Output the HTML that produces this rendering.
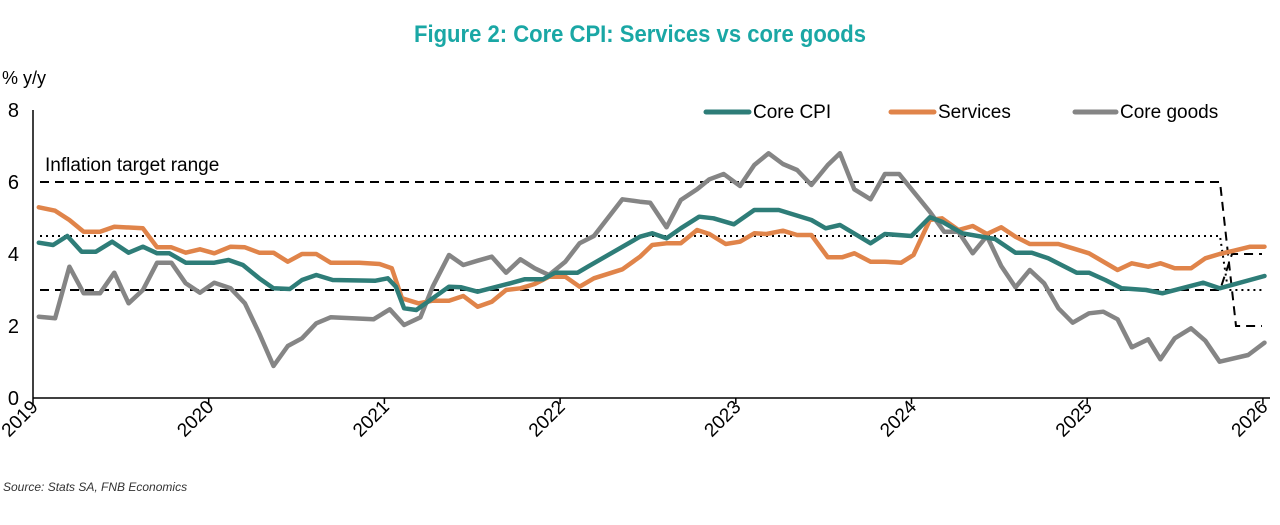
<!DOCTYPE html>
<html><head><meta charset="utf-8"><style>
body{margin:0;background:#fff;width:1280px;height:520px;overflow:hidden;font-family:"Liberation Sans",sans-serif}
</style></head><body>
<svg id="s" width="1280" height="520" xmlns="http://www.w3.org/2000/svg" font-family="Liberation Sans, sans-serif">
<text x="640" y="42" text-anchor="middle" font-size="24" font-weight="bold" fill="#1aa7a5" textLength="452" lengthAdjust="spacingAndGlyphs">Figure 2: Core CPI: Services vs core goods</text>
<text x="2" y="84" font-size="18">% y/y</text>
<g font-size="20" text-anchor="end">
<text x="19" y="117">8</text><text x="19" y="189">6</text><text x="19" y="261">4</text><text x="19" y="333">2</text><text x="19" y="405">0</text>
</g>
<line x1="33" y1="110" x2="33" y2="398" stroke="#000" stroke-width="1.5"/>
<line x1="33" y1="398" x2="1270" y2="398" stroke="#000" stroke-width="1.5"/>
<g id="ticks" stroke="#000" stroke-width="1.5"></g>
<g id="xl" font-size="19"></g>
<text x="45" y="171" font-size="19">Inflation target range</text>
<g fill="none" stroke="#000" stroke-width="2">
<path d="M40 182H1220L1236 326H1262" stroke-dasharray="9,6"/>
<path d="M40 290H1220L1232 254H1262" stroke-dasharray="9,6"/>
<path d="M40 236H1220L1228 290H1262" stroke-dasharray="2,4"/>
</g>
<g id="lines" fill="none" stroke-width="4.5" stroke-linejoin="round" stroke-linecap="round"></g>
<g font-size="19">
<line x1="706" y1="112" x2="749" y2="112" stroke="#2e7d78" stroke-width="5" stroke-linecap="round"/><text x="753" y="118">Core CPI</text>
<line x1="891" y1="112" x2="934" y2="112" stroke="#e0844a" stroke-width="5" stroke-linecap="round"/><text x="938" y="118">Services</text>
<line x1="1075" y1="112" x2="1116" y2="112" stroke="#858585" stroke-width="5" stroke-linecap="round"/><text x="1120" y="118">Core goods</text>
</g>
<text x="3" y="491" font-size="12" font-style="italic" fill="#333">Source: Stats SA, FNB Economics</text>
</svg>
<script>
var NS="http://www.w3.org/2000/svg",s=document.getElementById('s');
var t=document.getElementById('ticks'),xl=document.getElementById('xl');
for(var i=0;i<=7;i++){var x=33+i*175.7;
var l=document.createElementNS(NS,'line');l.setAttribute('x1',x);l.setAttribute('x2',x);l.setAttribute('y1',398);l.setAttribute('y2',404);t.appendChild(l);
var tx=document.createElementNS(NS,'text');tx.setAttribute('transform','translate('+(x+6)+',408) rotate(-45)');tx.setAttribute('text-anchor','end');tx.textContent=2019+i;xl.appendChild(tx);}
function z1(a){return a.map(function(p){return [p[0]/2.45,90+p[1]/3]})}
function z2(a){return a.map(function(p){return [640+p[0]/2.45,90+p[1]/3]})}
var cpi=z1([[95,458],[130,465],[165,438],[200,485],[235,485],[275,455],[315,488],[350,470],[385,490],[415,490],[455,518],[525,518],[560,510],[595,525],[635,565],[670,595],[710,597],[740,570],[775,555],[815,570],[920,572],[950,565],[970,590],[990,655],[1020,660],[1060,625],[1100,590],[1130,592],[1170,605],[1250,580],[1285,568],[1330,568],[1360,548],[1415,548],[1440,530]]).concat(z2([[0,440],[30,430],[65,445],[100,415],[145,380],[180,385],[230,403],[280,360],[340,360],[420,390],[455,415],[490,405],[565,460],[600,432],[665,438],[710,382],[740,395],[790,430],[870,447],[920,488],[960,488],[1000,505],[1070,548],[1100,548],[1140,570],[1180,595],[1240,600],[1280,610],[1380,578],[1420,595],[1530,558]]));
var srv=z1([[95,352],[135,362],[170,390],[205,425],[245,425],[280,410],[350,415],[385,472],[420,472],[455,488],[490,478],[525,490],[565,470],[600,472],[635,488],[670,488],[705,515],[740,492],[775,492],[810,518],[880,518],[930,522],[960,535],[985,625],[1025,640],[1060,632],[1100,632],[1135,618],[1170,650],[1205,635],[1240,600],[1275,595],[1310,582],[1345,560],[1385,560],[1420,590],[1455,565],[1525,538]]).concat(z2([[0,500],[30,465],[65,460],[100,460],[140,420],[170,432],[210,462],[245,455],[280,430],[310,432],[350,422],[385,435],[420,435],[460,502],[495,502],[525,490],[565,515],[600,515],[640,518],[670,495],[710,390],[740,385],[780,420],[815,408],[850,432],[885,412],[920,440],[955,462],[1025,462],[1060,475],[1100,490],[1170,540],[1205,520],[1245,530],[1275,520],[1310,535],[1350,535],[1385,505],[1420,492],[1455,482],[1495,470],[1530,470]]));
var gd=z1([[95,680],[135,685],[170,530],[205,610],[245,610],[280,548],[315,640],[350,600],[385,518],[420,518],[455,580],[490,608],[525,578],[565,595],[600,640],[635,730],[670,828],[705,768],[740,745],[775,700],[810,682],[915,688],[955,658],[990,705],[1030,682],[1060,590],[1100,495],[1135,525],[1170,512],[1205,500],[1240,548],[1275,508],[1310,535],[1345,555],[1385,515],[1420,460],[1455,438],[1525,328]]).concat(z2([[0,335],[25,338],[65,412],[100,330],[140,298],[170,268],[205,252],[245,288],[280,225],[315,190],[350,222],[385,240],[420,285],[460,225],[490,190],[525,298],[565,328],[600,252],[635,252],[670,305],[710,365],[745,425],[780,425],[815,490],[850,438],[885,528],[920,592],[955,540],[990,580],[1025,655],[1060,698],[1100,670],[1135,665],[1170,688],[1205,772],[1245,748],[1275,808],[1310,745],[1350,715],[1385,752],[1420,815],[1490,795],[1530,758]]));
var g=document.getElementById('lines');
[[gd,'#858585'],[srv,'#e0844a'],[cpi,'#2e7d78']].forEach(function(d){var p=document.createElementNS(NS,'polyline');p.setAttribute('points',d[0].map(function(q){return q[0].toFixed(1)+','+q[1].toFixed(1)}).join(' '));p.setAttribute('stroke',d[1]);g.appendChild(p);});
</script>
</body></html>
